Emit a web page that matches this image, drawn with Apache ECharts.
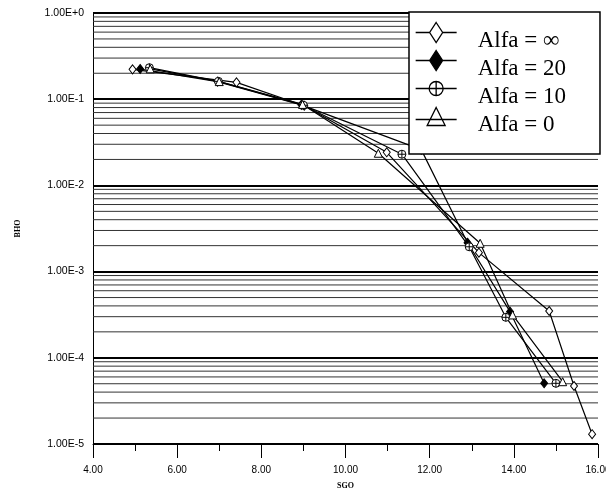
<!DOCTYPE html>
<html>
<head>
<meta charset="utf-8">
<script src="https://cdn.jsdelivr.net/npm/echarts@6/dist/echarts.min.js"></script>
<style>html,body{margin:0;padding:0;background:#fff}#c{width:606px;height:491px}</style>
</head>
<body>
<div id="c"></div>
<script>
// ---- data ----
const seriesNames = ['Alfa = ∞', 'Alfa = 20', 'Alfa = 10', 'Alfa = 0'];
const sgoInf = [4.94, 7.41, 9.02, 10.98, 13.17, 14.84, 15.43, 15.86];
const bhoInf = [0.222, 0.157, 0.084, 0.0242, 0.00166, 0.000349, 4.71e-5, 1.30e-5];
const sgo20 = [5.12, 6.96, 8.95, 11.8, 12.9, 13.91, 14.72];
const bho20 = [0.224, 0.160, 0.086, 0.026, 0.00216, 0.000343, 5.06e-5];
const sgo10 = [5.34, 6.98, 9.0, 11.34, 12.94, 13.81, 15.0];
const bho10 = [0.232, 0.161, 0.085, 0.0230, 0.00194, 0.000295, 5.06e-5];
const sgo0 = [5.36, 7.0, 8.98, 10.78, 13.2, 13.97, 15.16];
const bho0 = [0.225, 0.160, 0.087, 0.0236, 0.00213, 0.000314, 5.28e-5];
const xTicks = [4, 6, 8, 10, 12, 14, 16];
const yDecades = [1e-5, 1e-4, 1e-3, 1e-2, 1e-1];
const yMantissas = [2, 3, 4, 5, 6, 7, 8, 9];

// ---- helpers ----
const xMin = xTicks[0], xMax = xTicks[xTicks.length - 1];
const pairs = (xs, ys) => xs.map((x, i) => [x, ys[i]]);
const gridSeries = [];
yDecades.forEach(d => yMantissas.forEach(m => {
  const v = d * m;
  gridSeries.push({
    type: 'line', data: [[xMin, v], [xMax, v]], symbol: 'none', silent: true, z: 1,
    lineStyle: { color: '#333', width: 1 }, tooltip: { show: false }
  });
}));

const symCirclePlus = 'path://M-10,0A10,10 0 1,1 10,0A10,10 0 1,1 -10,0ZM-10,0L10,0M0,-10L0,10';
const icoDiamond = 'path://M0,0M0,20M0,10L14,10M27,10L41,10M20.5,0L27,10L20.5,20L14,10Z';
const icoCircle = 'path://M0,0M0,20M0,10L41,10M13.5,10A7,7 0 1,1 27.5,10A7,7 0 1,1 13.5,10ZM20.5,3L20.5,17';
const icoTriangle = 'path://M0,0M0,20M0,13L41,13M20.5,1L29.5,19L11.5,19Z';

const openStyle = { color: '#fff', borderColor: '#000', borderWidth: 1 };
const fillStyle = { color: '#000', borderColor: '#000', borderWidth: 1 };
const lineStyle = { color: '#000', width: 1.2 };

function mkSeries(name, data, symbol, size, itemStyle) {
  return {
    name, type: 'line', data, symbol, symbolSize: size,
    itemStyle, lineStyle, showAllSymbol: true, z: 3
  };
}

const chart = echarts.init(document.getElementById('c'), null, { renderer: 'canvas' });
chart.setOption({
  animation: false,
  backgroundColor: '#fff',
  grid: { left: 93, right: 8, top: 13, bottom: 47, containLabel: false, outerBoundsMode: 'none' },
  xAxis: {
    type: 'value', min: xMin, max: xMax, interval: 2,
    axisLine: { show: true, lineStyle: { color: '#000', width: 1 } },
    axisTick: { show: true, length: 14, lineStyle: { color: '#000', width: 1 } },
    minorTick: { show: true, splitNumber: 2, length: 7, lineStyle: { color: '#000', width: 1 } },
    splitLine: { show: false },
    axisLabel: { formatter: v => v.toFixed(2), fontSize: 10, color: '#000', margin: 21, fontFamily: 'Liberation Sans', hideOverlap: false },
    name: 'SGO', nameLocation: 'middle', nameGap: 38,
    nameTextStyle: { fontWeight: 'bold', fontSize: 8, color: '#000', fontFamily: 'Liberation Serif' }
  },
  yAxis: {
    type: 'log', logBase: 10, min: 1e-5, max: 1,
    axisLine: { show: true, lineStyle: { color: '#000', width: 1 } },
    axisTick: { show: false },
    splitLine: { show: true, lineStyle: { color: '#000', width: 2 } },
    axisLabel: {
      formatter: v => { const e = Math.round(Math.log10(v)); return '1.00E' + (e >= 0 ? '+' : '') + e; },
      fontSize: 10.5, color: '#000', margin: 9, fontFamily: 'Liberation Sans'
    },
    name: 'BHO', nameLocation: 'middle', nameGap: 71, nameRotate: 90,
    nameTextStyle: { fontWeight: 'bold', fontSize: 8, color: '#000', fontFamily: 'Liberation Serif' }
  },
  legend: {
    orient: 'vertical', left: 409, top: 12,
    backgroundColor: '#fff', borderColor: '#000', borderWidth: 1.5,
    padding: [1, 34, 18, 6],
    itemWidth: 41, itemHeight: 20, itemGap: -11,
    formatter: n => '\n' + n,
    textStyle: { fontFamily: 'Liberation Serif', fontSize: 23, lineHeight: 16, color: '#000', padding: [0, 0, 0, 16] },
    data: [
      { name: seriesNames[0], icon: icoDiamond, itemStyle: { color: '#fff', borderColor: '#000', borderWidth: 1.3 } },
      { name: seriesNames[1], icon: icoDiamond, itemStyle: { color: '#000', borderColor: '#000', borderWidth: 1.3 } },
      { name: seriesNames[2], icon: icoCircle, itemStyle: { color: '#fff', borderColor: '#000', borderWidth: 1.3 } },
      { name: seriesNames[3], icon: icoTriangle, itemStyle: { color: '#fff', borderColor: '#000', borderWidth: 1.3 } }
    ],
    selectedMode: false, z: 10
  },
  series: gridSeries.concat([
    mkSeries(seriesNames[0], pairs(sgoInf, bhoInf), 'diamond', [7, 9], openStyle),
    mkSeries(seriesNames[1], pairs(sgo20, bho20), 'diamond', [7, 9], fillStyle),
    mkSeries(seriesNames[2], pairs(sgo10, bho10), symCirclePlus, 8, openStyle),
    mkSeries(seriesNames[3], pairs(sgo0, bho0), 'triangle', 8, openStyle)
  ])
});
</script>
</body>
</html>
